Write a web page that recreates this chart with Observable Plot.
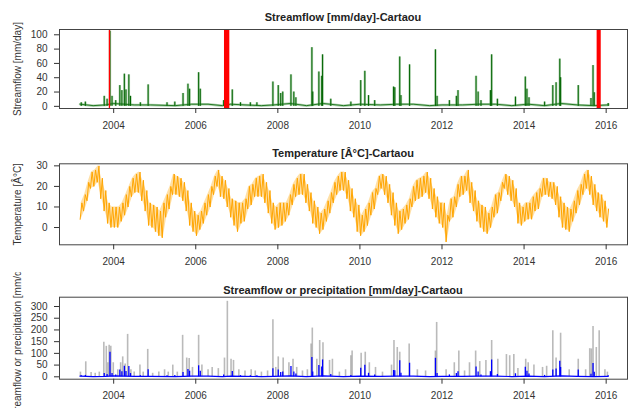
<!DOCTYPE html>
<html><head><meta charset="utf-8">
<script src="https://cdn.jsdelivr.net/npm/d3@7"></script>
<script src="https://cdn.jsdelivr.net/npm/@observablehq/plot@0.6"></script>
<style>
body{margin:0;background:#fff;}
#c{position:relative;width:628px;height:408px;overflow:hidden;background:#fff;}
.p{position:absolute;left:0;width:628px;height:136px;overflow:hidden;}
.p svg{display:block;}
.t{position:absolute;left:59px;width:568px;text-align:center;font:bold 11px 'Liberation Sans',Arial,sans-serif;line-height:12px;color:#222;white-space:nowrap;}
</style></head><body><div id="c"></div>
<script>
// ---------- data ----------
const yearTicks = [2004, 2006, 2008, 2010, 2012, 2014, 2016];
const xDomain = [2002.68, 2016.52];

// streamflow peaks (decimal year, mm/day)
const flowT = [2003.21,2003.31,2003.77,2003.84,2003.91,2003.96,2004.05,2004.15,2004.20,2004.26,2004.30,2004.37,2004.41,2004.65,2004.84,
  2005.30,2005.49,2005.69,2005.81,2005.85,2006.07,2006.11,2006.68,2006.89,2007.09,2007.33,2007.49,2007.88,2008.01,2008.07,2008.12,
  2008.32,2008.39,2008.44,2008.83,2008.85,2009.00,2009.07,2009.09,2009.29,2009.78,2010.02,2010.12,2010.21,2010.36,2010.82,2010.85,
  2010.97,2011.00,2011.21,2011.84,2011.88,2012.18,2012.35,2012.39,2012.83,2012.88,2012.95,2013.18,2013.21,2013.35,2013.79,2014.03,
  2014.07,2014.12,2014.50,2014.70,2014.78,2014.87,2014.89,2015.32,2015.63,2015.68,2015.71,2016.05];
const flowV = [5,6,14,10,105,14,8,29,22,45,23,44,14,5,30,
  5,6,18,31,24,47,24,8,23,5,5,5,34,29,18,20,
  44,20,12,82,20,48,42,72,10,6,36,49,15,8,27,26,
  69,15,58,79,14,8,14,22,42,20,8,22,72,10,13,41,
  24,12,6,29,33,66,40,29,11,57,19,4];

// base flow between events
const baseT = [2003.18,2003.5,2003.8,2004.0,2004.5,2004.9,2005.5,2005.9,2006.3,2006.65,2006.85,2007.2,2007.6,2007.9,2008.3,2008.7,
  2009.1,2009.6,2010.0,2010.5,2010.9,2011.3,2011.7,2012.0,2012.5,2012.9,2013.3,2013.7,2014.1,2014.5,2014.9,2015.3,2015.7,2016.05];
const baseV = [3,1,2,4,2,2,1,3,3,1,3,2,1,2,4,1,4,1,3,2,3,3,1,2,2,3,3,1,3,1,4,2,1,2];

// missing-data periods (red bands)
const gapStart = [2003.893, 2006.70, 2015.78];
const gapEnd   = [2003.925, 2006.83, 2015.88];

// precipitation peaks (decimal year, mm/day)
const precT = [2003.19,2003.32,2003.45,2003.55,2003.65,2003.76,2003.82,2003.86,2003.89,2003.93,2003.99,2004.10,2004.17,2004.22,2004.28,
  2004.34,2004.42,2004.50,2004.64,2004.72,2004.83,2004.95,2005.10,2005.24,2005.33,2005.44,2005.55,2005.68,2005.78,2005.84,2005.92,
  2006.07,2006.15,2006.30,2006.40,2006.55,2006.70,2006.77,2006.86,2006.92,2007.05,2007.20,2007.35,2007.45,2007.60,2007.75,2007.88,
  2007.95,2008.01,2008.13,2008.27,2008.37,2008.46,2008.60,2008.72,2008.81,2008.84,2008.95,2009.02,2009.10,2009.26,2009.33,2009.50,
  2009.65,2009.78,2009.81,2010.03,2010.13,2010.23,2010.38,2010.55,2010.77,2010.83,2010.91,2010.97,2011.20,2011.40,2011.60,2011.84,
  2011.87,2012.10,2012.30,2012.41,2012.55,2012.67,2012.82,2012.92,2013.07,2013.21,2013.36,2013.57,2013.65,2013.75,2013.85,2014.04,
  2014.10,2014.24,2014.45,2014.55,2014.70,2014.78,2014.89,2015.10,2015.32,2015.50,2015.60,2015.64,2015.68,2015.76,2015.83,2015.97,2016.03];
const precV = [20,64,18,15,20,148,130,60,135,130,60,30,60,85,55,
  181,30,20,50,20,117,15,20,30,20,50,20,177,80,78,40,
  177,50,30,40,35,80,322,75,70,30,25,30,25,20,25,243,
  40,85,80,60,75,40,25,30,140,208,75,155,145,70,75,20,
  30,90,110,100,105,60,40,20,50,155,125,105,140,30,25,110,
  232,30,60,110,25,60,110,65,70,155,75,95,90,95,35,75,
  60,50,40,45,197,80,186,30,75,30,120,119,215,125,197,30,20];

// temperature: monthly low / high (°C)
const tempYears = [2003,2004,2005,2006,2007,2008,2009,2010,2011,2012,2013,2014,2015,2016];
const tempLow = [
  [null,null,4,8,13,19,20,22,14,8,2,0],
  [0,0,3,6,10,15,17,17,13,8,1,0],
  [-2,-4,-5,5,9,16,16,15,13,8,1,-2],
  [-4,-1,2,6,10,16,20,15,14,10,5,1],
  [-2,2,3,9,11,15,15,15,12,7,2,-1],
  [0,1,3,6,11,15,16,16,12,8,2,0],
  [-3,-1,3,7,12,16,18,18,14,8,5,-2],
  [-4,-2,1,6,9,16,19,16,12,6,1,-3],
  [-1,2,4,10,13,14,15,17,14,9,5,2],
  [0,-7,3,5,10,15,16,18,12,8,3,0],
  [-2,-3,0,5,7,13,19,16,13,10,2,1],
  [3,4,4,8,9,15,16,15,14,11,5,0],
  [-1,-2,3,7,11,16,19,16,11,8,5,3],
  [0]
];
const tempHigh = [
  [null,null,12,16,22,27,28,30,24,18,12,10],
  [10,10,12,16,20,24,26,27,23,18,12,11],
  [10,8,12,16,20,26,25,24,22,18,12,8],
  [6,8,12,16,20,25,28,25,23,19,14,13],
  [12,12,14,20,21,24,25,26,22,18,12,10],
  [12,12,12,16,21,24,26,26,21,17,13,10],
  [7,9,13,17,22,25,27,27,23,19,14,11],
  [6,9,12,17,19,25,26,25,21,17,12,8],
  [9,11,14,20,23,24,25,27,24,19,15,12],
  [12,6,14,15,21,25,25,28,22,18,13,11],
  [10,7,10,16,17,22,26,25,23,19,12,10],
  [12,12,15,17,19,24,24,22,22,20,15,12],
  [10,9,13,18,21,26,28,25,21,17,16,13],
  [9]
];

const title1 = "Streamflow [mm/day]-Cartaou";
const title2 = "Temperature [Â°C]-Cartaou";
const title3 = "Streamflow or precipitation [mm/day]-Cartaou";
const ylab1 = "Streamflow [mm/day]";
const ylab2 = "Temperature [Â°C]";
const ylab3 = "Streamflow or precipitation [mm/day]";

// ---------- tables ----------
const flow = flowT.map((t, i) => ({t, v: flowV[i]}));
const base = baseT.map((t, i) => ({t, v: baseV[i]}));
const gaps = gapStart.map((s, i) => ({s, e: gapEnd[i]}));
const prec = precT.map((t, i) => ({t, v: precV[i]}));
const temp = [];      // monthly band
const tempTrace = []; // trace swinging between the read low and high of each month
tempYears.forEach((y, yi) => tempLow[yi].forEach((lo, m) => {
  if (lo == null) return;
  const hi = tempHigh[yi][m];
  temp.push({t: y + (m + 0.5) / 12, lo, hi});
  tempTrace.push({t: y + (m + 0.2) / 12, v: lo});
  tempTrace.push({t: y + (m + 0.7) / 12, v: hi});
}));

// ---------- drawing ----------
const FONT = "'Liberation Sans', Arial, sans-serif";
const ink = "#333";
function panel(top, mt, mb, yDomain, yTicks, ylab, title, titleTop, marks) {
  const c = document.getElementById("c");
  const div = document.createElement("div");
  div.className = "p"; div.style.top = top + "px";
  const svg = Plot.plot({
    width: 628, height: 136,
    marginLeft: 59, marginRight: 1, marginTop: mt, marginBottom: mb,
    style: {fontFamily: FONT, fontSize: "10px", color: ink, background: "white", overflow: "hidden"},
    x: {domain: xDomain},
    y: {domain: yDomain},
    marks: [
      ...marks,
      Plot.frame({stroke: "#444"}),
      Plot.axisX({ticks: yearTicks, tickFormat: d => String(d), tickSize: 5, tickPadding: 8, label: null}),
      Plot.axisY({ticks: yTicks, tickSize: 5, tickPadding: 7, label: ylab, labelAnchor: "center", labelOffset: 46, labelArrow: "none"})
    ]
  });
  div.appendChild(svg);
  c.appendChild(div);
  const t = document.createElement("div");
  t.className = "t"; t.style.top = titleTop + "px"; t.textContent = title;
  c.appendChild(t);
}

panel(0, 29, 28, [-3, 107.4], [0, 20, 40, 60, 80, 100], ylab1, title1, 11, [
  Plot.lineY(base, {x: "t", y: "v", stroke: "#5fa35f", strokeWidth: 2.5, strokeOpacity: 0.5}),
  Plot.lineY(base, {x: "t", y: "v", stroke: "#006400", strokeWidth: 0.8}),
  Plot.ruleX(flow, {x: "t", y1: 0, y2: "v", stroke: "#4c9a4c", strokeWidth: 2.4, strokeOpacity: 0.45}),
  Plot.ruleX(flow, {x: "t", y1: 0, y2: "v", stroke: "#006400", strokeWidth: 1}),
  Plot.rect(gaps, {x1: "s", x2: "e", fill: "red", inset: 0})
]);

panel(136, 27.3, 27.7, [-8.4, 31], [0, 10, 20, 30], ylab2, title2, 147, [
  Plot.areaY(temp, {x: "t", y1: "lo", y2: "hi", fill: "#FFA500", fillOpacity: 0.35}),
  Plot.lineY(tempTrace, {x: "t", y: "v", stroke: "#FFA500", strokeWidth: 1})
]);

panel(272, 24.7, 29.3, [-10.2, 339.7], [0, 50, 100, 150, 200, 250, 300], ylab3, title3, 283.5, [
  Plot.ruleX(prec, {x: "t", y1: 0, y2: "v", stroke: "#8c8c8c", strokeWidth: 1.6, strokeOpacity: 0.6}),
  Plot.lineY(base, {x: "t", y: "v", stroke: "#0000ff", strokeWidth: 1.2}),
  Plot.ruleX(flow, {x: "t", y1: 0, y2: "v", stroke: "#0000ff", strokeWidth: 1.3})
]);
</script></body></html>
